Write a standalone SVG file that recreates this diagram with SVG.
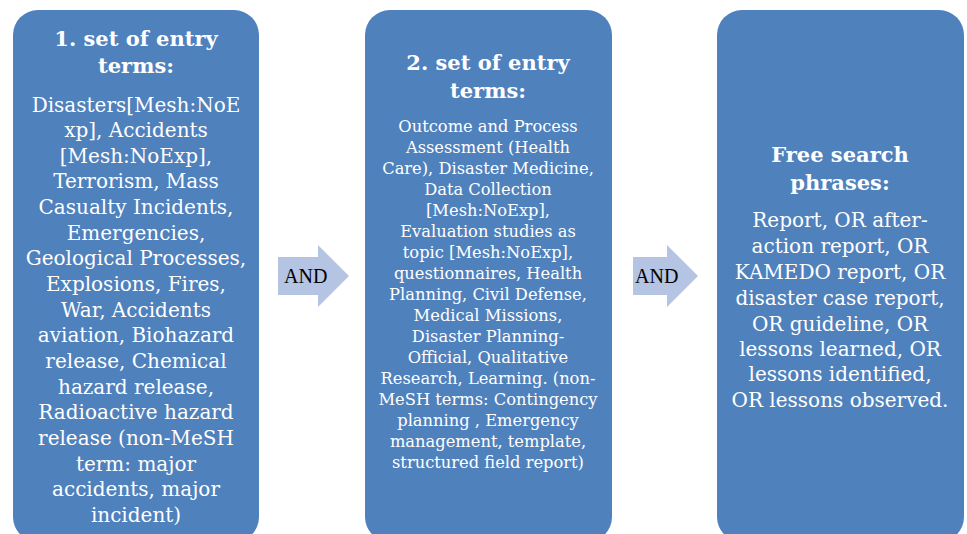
<svg xmlns="http://www.w3.org/2000/svg" width="967" height="534" viewBox="0 0 967 534">
<style>
.box{fill:#4F81BD;}
.arrow{fill:#B4C4E2;}
.h{font-family:"DejaVu Serif",serif;font-weight:bold;font-size:21px;fill:#fff;text-anchor:middle;}
.b{font-family:"DejaVu Serif",serif;font-size:20px;fill:#fff;text-anchor:middle;}
.s{font-family:"DejaVu Serif",serif;font-size:16.3px;fill:#fff;text-anchor:middle;}
.a{font-family:"Liberation Serif",serif;font-size:20px;fill:#000;}
</style>
<rect width="967" height="534" fill="#fff"/>
<g id="node1">
<rect class="box" x="13" y="10" width="246" height="532" rx="25" ry="25"/>
<text class="h" x="136" y="46">1. set of entry</text>
<text class="h" x="136" y="73">terms:</text>
<text class="b" x="136" y="112">Disasters[Mesh:NoE</text>
<text class="b" x="136" y="137">xp], Accidents</text>
<text class="b" x="136" y="163">[Mesh:NoExp],</text>
<text class="b" x="136" y="188">Terrorism, Mass</text>
<text class="b" x="136" y="214">Casualty Incidents,</text>
<text class="b" x="136" y="240">Emergencies,</text>
<text class="b" x="136" y="265">Geological Processes,</text>
<text class="b" x="136" y="291">Explosions, Fires,</text>
<text class="b" x="136" y="317">War, Accidents</text>
<text class="b" x="136" y="342">aviation, Biohazard</text>
<text class="b" x="136" y="368">release, Chemical</text>
<text class="b" x="136" y="394">hazard release,</text>
<text class="b" x="136" y="419">Radioactive hazard</text>
<text class="b" x="136" y="445">release (non-MeSH</text>
<text class="b" x="136" y="471">term: major</text>
<text class="b" x="136" y="496">accidents, major</text>
<text class="b" x="136" y="522">incident)</text>
</g>
<g id="node2">
<rect class="box" x="365" y="10" width="247" height="532" rx="25" ry="25"/>
<text class="h" x="488" y="70">2. set of entry</text>
<text class="h" x="488" y="98">terms:</text>
<text class="s" x="488" y="132">Outcome and Process</text>
<text class="s" x="488" y="153">Assessment (Health</text>
<text class="s" x="488" y="174">Care), Disaster Medicine,</text>
<text class="s" x="488" y="195">Data Collection</text>
<text class="s" x="488" y="216">[Mesh:NoExp],</text>
<text class="s" x="488" y="237">Evaluation studies as</text>
<text class="s" x="488" y="258">topic [Mesh:NoExp],</text>
<text class="s" x="488" y="279">questionnaires, Health</text>
<text class="s" x="488" y="300">Planning, Civil Defense,</text>
<text class="s" x="488" y="321">Medical Missions,</text>
<text class="s" x="488" y="342">Disaster Planning-</text>
<text class="s" x="488" y="363">Official, Qualitative</text>
<text class="s" x="488" y="384">Research, Learning. (non-</text>
<text class="s" x="488" y="405">MeSH terms: Contingency</text>
<text class="s" x="488" y="426">planning , Emergency</text>
<text class="s" x="488" y="447">management, template,</text>
<text class="s" x="488" y="468">structured field report)</text>
</g>
<g id="node3">
<rect class="box" x="717" y="10" width="247" height="532" rx="25" ry="25"/>
<text class="h" x="840" y="162">Free search</text>
<text class="h" x="840" y="190">phrases:</text>
<text class="b" x="840" y="227">Report, OR after-</text>
<text class="b" x="840" y="253">action report, OR</text>
<text class="b" x="840" y="279">KAMEDO report, OR</text>
<text class="b" x="840" y="305">disaster case report,</text>
<text class="b" x="840" y="331">OR guideline, OR</text>
<text class="b" x="840" y="356">lessons learned, OR</text>
<text class="b" x="840" y="381">lessons identified,</text>
<text class="b" x="840" y="407">OR lessons observed.</text>
</g>
<g id="connectors">
<g id="arrow1">
<polygon class="arrow" points="278,257 318,257 318,245 349,276 318,307 318,295 278,295"/>
<text class="a" x="284" y="283">AND</text>
</g>
<g id="arrow2">
<polygon class="arrow" points="633,257 667,257 667,245 698,276 667,307 667,295 633,295"/>
<text class="a" x="635" y="283">AND</text>
</g>
</g>
</svg>
